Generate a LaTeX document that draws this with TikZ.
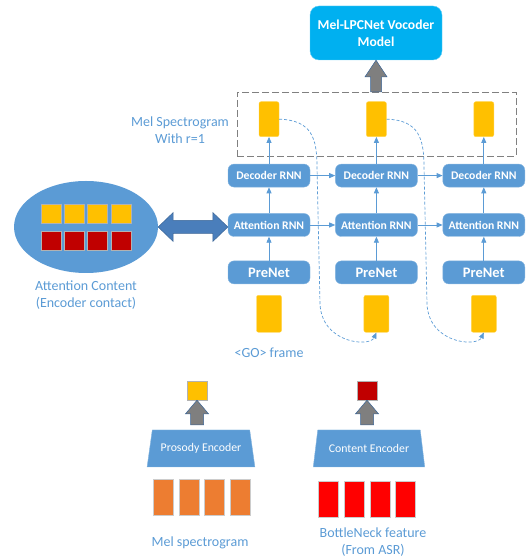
\documentclass[tikz,border=0pt]{standalone}
\usepackage{fontspec}
\setmainfont{Carlito}
\usepackage{tikz}
\usetikzlibrary{positioning,calc,shapes.geometric,arrows.meta}

\definecolor{boxblue}{HTML}{5B9BD5}
\definecolor{skyblue}{HTML}{00B0F0}
\definecolor{ambery}{HTML}{FFC000}
\definecolor{darkred}{HTML}{C00000}
\definecolor{brightred}{HTML}{FF0000}
\definecolor{orangebar}{HTML}{ED7D31}
\definecolor{arrowgray}{HTML}{7F7F7F}
\definecolor{deepblue}{HTML}{4A7EBB}

\begin{document}
\begin{tikzpicture}[x=1pt,y=1pt,>={Triangle[length=6pt,width=5pt]}]

	\tikzset{
		box/.style={draw=boxblue!75!white, fill=boxblue, rounded corners=6pt, text=white,
			font=\bfseries\fontsize{11.7}{13}\selectfont,
			minimum width=82pt, minimum height=23pt, inner sep=0pt},
		frame/.style={draw=ambery!70!white, fill=ambery, rounded corners=2pt,
			minimum width=20pt, minimum height=35pt, inner sep=0pt},
		sq/.style={draw=gray!60, minimum width=20pt, minimum height=19pt, inner sep=0pt},
		bar/.style={draw=gray!40, minimum width=20pt, minimum height=36pt, inner sep=0pt},
		lab/.style={text=boxblue, align=center, inner sep=0pt, font=\fontsize{14}{17}\selectfont},
		enc/.style={trapezium, trapezium angle=67, trapezium stretches=true, draw=boxblue!75!white,
			fill=boxblue, text=white, minimum height=37pt, inner sep=0pt,
			font=\fontsize{11.8}{13}\selectfont},
		link/.style={draw=boxblue, line width=0.8pt},
		dashlink/.style={draw=boxblue, line width=0.7pt, dash pattern=on 3pt off 2pt},
		blockarr/.style={fill=arrowgray, draw=deepblue!80!black, line width=0.5pt}
	}

	\useasboundingbox (0,0) rectangle (527,559);

	% ===== VOCODER (TOP) =====
	\node[draw=skyblue!60!white, fill=skyblue, rounded corners=9pt, text=white, align=center,
		font=\bfseries\fontsize{13.6}{17}\selectfont, minimum width=132pt, minimum height=54pt]
		(voc) at (376,526) {Mel-LPCNet Vocoder\\Model};

	\node[draw=gray, dash pattern=on 7pt off 3pt, minimum width=279pt, minimum height=64pt]
		(spec) at (376.5,435) {};

	% ===== DECODER COLUMNS =====
	\node[box] (att1) at (269,334) {Attention RNN};
	\node[box, right=25pt of att1] (att2) {Attention RNN};
	\node[box, right=25pt of att2] (att3) {Attention RNN};

	\node[box, above=26pt of att1] (dec1) {Decoder RNN};
	\node[box, above=26pt of att2] (dec2) {Decoder RNN};
	\node[box, above=26pt of att3] (dec3) {Decoder RNN};

	\node[box, below=24pt of att1, font=\bfseries\fontsize{14.5}{16}\selectfont] (pre1) {PreNet};
	\node[box, below=24pt of att2, font=\bfseries\fontsize{14.5}{16}\selectfont] (pre2) {PreNet};
	\node[box, below=24pt of att3, font=\bfseries\fontsize{14.5}{16}\selectfont] (pre3) {PreNet};

	\node[frame, above=27pt of dec1] (mel1) {};
	\node[frame, above=27pt of dec2] (mel2) {};
	\node[frame, above=27pt of dec3] (mel3) {};

	\node[frame, minimum width=25pt, minimum height=37pt, below=11pt of pre1] (go1) {};
	\node[frame, minimum width=25pt, minimum height=37pt, below=11pt of pre2] (go2) {};
	\node[frame, minimum width=25pt, minimum height=37pt, below=11pt of pre3] (go3) {};

	\node[lab] (speclab) at (180,429) {Mel Spectrogram\\With r=1};
	\node[lab, below=15pt of go1] (golab) {<GO> frame};

	% ===== ATTENTION CONTENT (LEFT) =====
	\node[ellipse, fill=boxblue, minimum width=144pt, minimum height=92pt] (ctx) at (86,332) {};

	\node[sq, fill=ambery] (y1) at (51,345) {};
	\node[sq, fill=ambery] (y2) at (74.3,345) {};
	\node[sq, fill=ambery] (y3) at (97.6,345) {};
	\node[sq, fill=ambery] (y4) at (121,345) {};
	\node[sq, fill=darkred] (r1) at (51,318) {};
	\node[sq, fill=darkred] (r2) at (74.3,318) {};
	\node[sq, fill=darkred] (r3) at (97.6,318) {};
	\node[sq, fill=darkred] (r4) at (121,318) {};

	\node[lab, below=7pt of ctx] (ctxlab) {Attention Content\\(Encoder contact)};

	% ===== ENCODERS (BOTTOM) =====
	\node[sq, fill=ambery] (pq) at (197,168.5) {};
	\node[enc, minimum width=108pt] (pros) at (201,110.5) {Prosody Encoder};
	\node[bar, fill=orangebar] (o1) at (163,62) {};
	\node[bar, fill=orangebar] (o2) at (188.7,62) {};
	\node[bar, fill=orangebar] (o3) at (214.3,62) {};
	\node[bar, fill=orangebar] (o4) at (240,62) {};
	\node[lab] (mellab) at (200,16) {Mel spectrogram};

	\node[sq, fill=darkred] (cq) at (367,168.5) {};
	\node[enc, minimum width=112pt] (cont) at (369,110.5) {Content Encoder};
	\node[bar, fill=brightred] (b1) at (328.5,60) {};
	\node[bar, fill=brightred] (b2) at (354.2,60) {};
	\node[bar, fill=brightred] (b3) at (379.8,60) {};
	\node[bar, fill=brightred] (b4) at (405.5,60) {};
	\node[lab] (bnlab) at (373,16.5) {BottleNeck feature\\(From ASR)};

	% ===== ARROWS =====
	\draw[link,->] (pre1) -- (att1);
	\draw[link,->] (pre2) -- (att2);
	\draw[link,->] (pre3) -- (att3);
	\draw[link,->] (att1) -- (dec1);
	\draw[link,->] (att2) -- (dec2);
	\draw[link,->] (att3) -- (dec3);
	\draw[link,->] (dec1) -- (mel1);
	\draw[link,->] (dec2) -- (mel2);
	\draw[link,->] (dec3) -- (mel3);

	\draw[link,->] (att1) -- (att2);
	\draw[link,->] (att2) -- (att3);
	\draw[link,->] (dec1) -- (dec2);
	\draw[link,->] (dec2) -- (dec3);

	% feedback of the predicted frame
	\draw[dashlink,->] (mel1.east) .. controls (312,439) and (317,420) .. (317,392)
		-- (320,255) .. controls (322,215) and (370,212) .. (go2.south);
	\draw[dashlink,->] (mel2.east) .. controls (419,439) and (424,420) .. (424,392)
		-- (427,255) .. controls (429,215) and (477,212) .. (go3.south);

	% ===== BLOCK ARROWS =====
	\coordinate (dl) at (ctx.east);
	\coordinate (dr) at (ctx.east -| att1.west);
	\draw[fill=deepblue, draw=deepblue!80!black, line width=0.5pt]
		(dl) -- ++(15,14.5) -- ++(0,-8) -- ($(dr)+(-15,6.5)$) -- ++(0,8) -- (dr)
		-- ++(-15,-14.5) -- ++(0,8) -- ($(dl)+(15,-6.5)$) -- ++(0,-8) -- cycle;

	\coordinate (vb) at (voc.south |- spec.north);
	\draw[blockarr] (vb) ++(-5.5,0) -- ++(0,15) -- ++(-5.5,0) -- (voc.south)
		-- ($(vb)+(11,15)$) -- ++(-5.5,0) -- ++(0,-15) -- cycle;

	\coordinate (pb) at ([yshift=5pt]pq.south |- pros.north);
	\draw[blockarr] (pb) ++(-6.5,0) -- ++(0,11) -- ++(-5,0) -- (pq.south)
		-- ($(pb)+(11.5,11)$) -- ++(-5,0) -- ++(0,-11) -- cycle;

	\coordinate (cb) at ([yshift=5pt]cq.south |- cont.north);
	\draw[blockarr] (cb) ++(-6.5,0) -- ++(0,11) -- ++(-5,0) -- (cq.south)
		-- ($(cb)+(11.5,11)$) -- ++(-5,0) -- ++(0,-11) -- cycle;

\end{tikzpicture}
\end{document}
